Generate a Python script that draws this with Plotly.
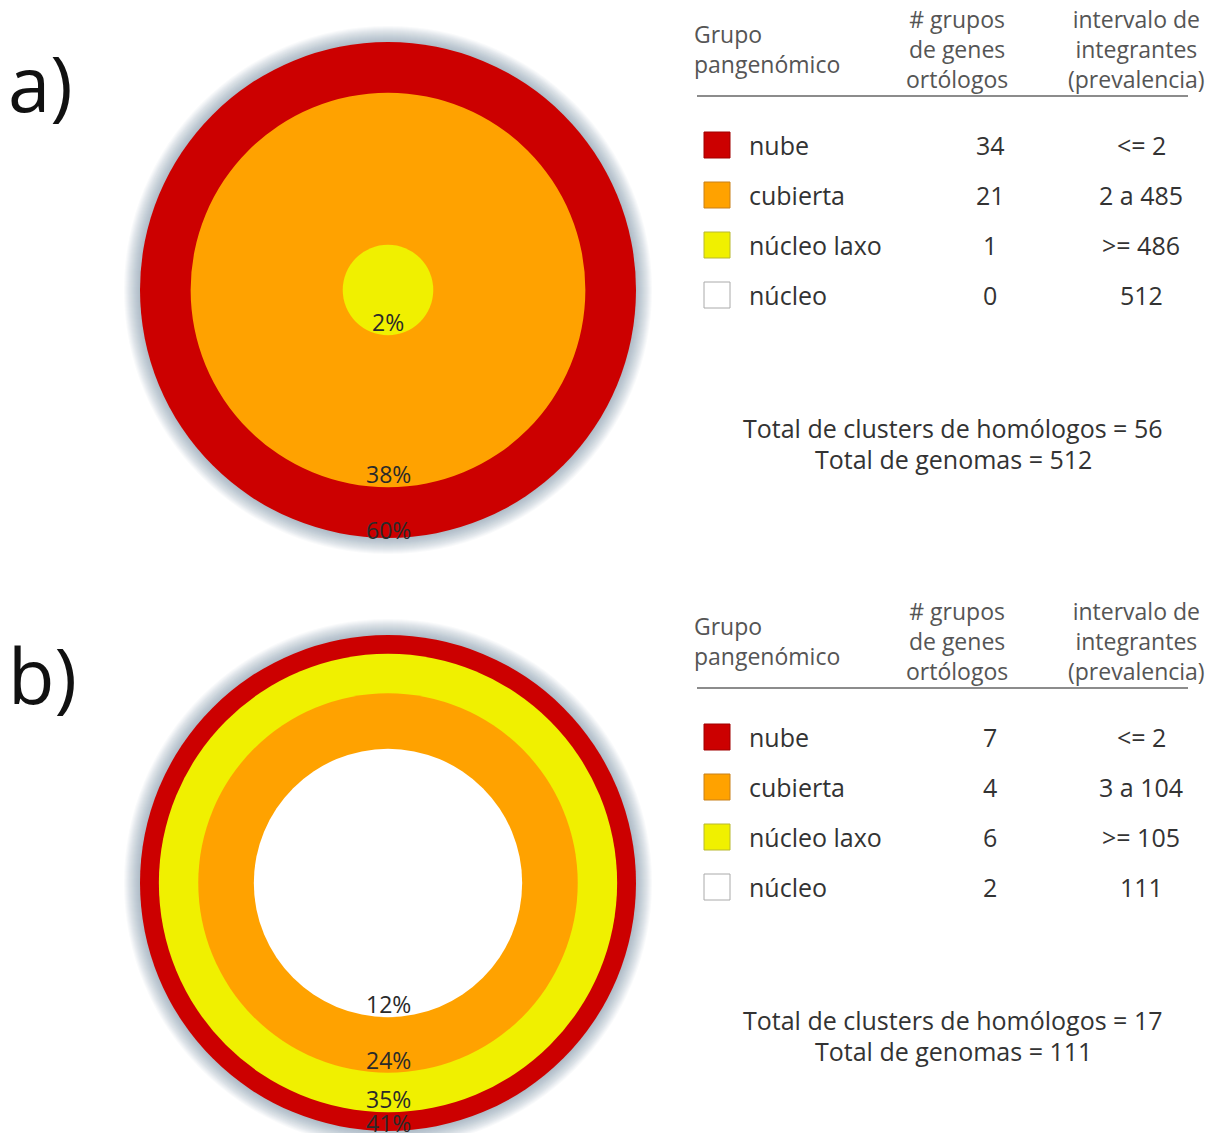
import plotly.graph_objects as go

W, H = 1222, 1133

# ---- data -------------------------------------------------------------
groups = ["nube", "cubierta", "núcleo laxo", "núcleo"]
group_colors = ["#cc0000", "#ffa200", "#f0f000", "#ffffff"]
square_borders = ["#a00000", "#c8801a", "#b8b830", "#aaaaaa"]

a_counts = [34, 21, 1, 0]
a_ranges = ["<= 2", "2 a 485", ">= 486", "512"]
a_pct = [60, 38, 2, 0]
a_total_clusters = 56
a_total_genomes = 512

b_counts = [7, 4, 6, 2]
b_ranges = ["<= 2", "3 a 104", ">= 105", "111"]
b_pct = [41, 24, 35, 12]
b_total_clusters = 17
b_total_genomes = 111

header_group = "Grupo<br>pangenómico"
header_count = "# grupos<br>de genes<br>ortólogos"
header_range = "intervalo de<br>integrantes<br>(prevalencia)"

FONT = "Open Sans"
TXT = "#333333"
HDR = "#555555"


def fx(px):
    return px / W


def fy(py):
    return 1 - py / H


fig = go.Figure()

# panel geometry (pixels): centre and outer radius of each circle diagram
R_PX = 248
panels = [
    dict(label="a)", xa="x", ya="y", cy=290, pct=a_pct, counts=a_counts,
         ranges=a_ranges, tc=a_total_clusters, tg=a_total_genomes, dy=0),
    dict(label="b)", xa="x2", ya="y2", cy=883, pct=b_pct, counts=b_counts,
         ranges=b_ranges, tc=b_total_clusters, tg=b_total_genomes, dy=592),
]
CX = 388
HALF = 264

layout_axes = {}
for i, p in enumerate(panels):
    suffix = "" if i == 0 else str(i + 1)
    top_px = max(p["cy"] - HALF, 0)
    bot_px = min(p["cy"] + HALF, H)
    layout_axes["xaxis" + suffix] = dict(
        domain=[fx(CX - HALF), fx(CX + HALF)],
        range=[-HALF / R_PX, HALF / R_PX],
        visible=False, fixedrange=True)
    layout_axes["yaxis" + suffix] = dict(
        domain=[fy(bot_px), fy(top_px)],
        range=[-(bot_px - p["cy"]) / R_PX, (p["cy"] - top_px) / R_PX],
        visible=False, fixedrange=True)
    fig.add_trace(go.Scatter(x=[0], y=[0], mode="markers", xaxis=p["xa"], yaxis=p["ya"],
                             marker=dict(opacity=0), hoverinfo="skip", showlegend=False))

    pmax = max(p["pct"])
    # soft halo behind the outer circle
    for k in range(16, 0, -1):
        rr = 1 + k / R_PX
        fig.add_shape(type="circle", xref=p["xa"], yref=p["ya"],
                      x0=-rr, x1=rr, y0=-rr, y1=rr,
                      fillcolor="rgba(100,140,155,0.04)", line=dict(width=0),
                      layer="below")

    # circles: area proportional to each group's share, largest drawn first
    order = sorted(range(len(groups)), key=lambda j: -p["pct"][j])
    for j in order:
        v = p["pct"][j]
        if v <= 0:
            continue
        r = (v / pmax) ** 0.5
        fig.add_shape(type="circle", xref=p["xa"], yref=p["ya"],
                      x0=-r, x1=r, y0=-r, y1=r,
                      fillcolor=group_colors[j], line=dict(width=0), layer="below")
    for n, j in enumerate(order):
        v = p["pct"][j]
        if v <= 0:
            continue
        r = (v / pmax) ** 0.5
        off = 8 if n == 0 else 13
        fig.add_annotation(x=0, y=-r + off / R_PX, xref=p["xa"], yref=p["ya"],
                           text=f"{v}%", showarrow=False,
                           font=dict(family=FONT, size=23, color="#2a2a2a"),
                           xanchor="center", yanchor="middle")

    dy = p["dy"]
    # panel letter
    fig.add_annotation(x=fx(6), y=fy(82 + dy), xref="paper", yref="paper",
                       text=p["label"], showarrow=False,
                       font=dict(family=FONT, size=76, color="#111111"),
                       xanchor="left", yanchor="middle")

    # table header
    fig.add_annotation(x=fx(692), y=fy(49 + dy), xref="paper", yref="paper",
                       text=header_group, showarrow=False, align="left",
                       font=dict(family=FONT, size=23, color=HDR),
                       xanchor="left", yanchor="middle")
    fig.add_annotation(x=fx(957), y=fy(49 + dy), xref="paper", yref="paper",
                       text=header_count, showarrow=False, align="center",
                       font=dict(family=FONT, size=23, color=HDR),
                       xanchor="center", yanchor="middle")
    fig.add_annotation(x=fx(1136), y=fy(49 + dy), xref="paper", yref="paper",
                       text=header_range, showarrow=False, align="center",
                       font=dict(family=FONT, size=23, color=HDR),
                       xanchor="center", yanchor="middle")
    fig.add_shape(type="line", xref="paper", yref="paper",
                  x0=fx(697), x1=fx(1188), y0=fy(96 + dy), y1=fy(96 + dy),
                  line=dict(color="#666666", width=1.3))

    # table rows
    for j, g in enumerate(groups):
        ry = 145 + 50 * j + dy
        fig.add_shape(type="rect", xref="paper", yref="paper",
                      x0=fx(704), x1=fx(730), y0=fy(ry - 13), y1=fy(ry + 13),
                      fillcolor=group_colors[j],
                      line=dict(color=square_borders[j], width=1))
        fig.add_annotation(x=fx(747), y=fy(ry), xref="paper", yref="paper",
                           text=g, showarrow=False,
                           font=dict(family=FONT, size=25, color=TXT),
                           xanchor="left", yanchor="middle")
        fig.add_annotation(x=fx(990), y=fy(ry), xref="paper", yref="paper",
                           text=str(p["counts"][j]), showarrow=False,
                           font=dict(family=FONT, size=25, color=TXT),
                           xanchor="center", yanchor="middle")
        fig.add_annotation(x=fx(1141), y=fy(ry), xref="paper", yref="paper",
                           text=p["ranges"][j], showarrow=False,
                           font=dict(family=FONT, size=25, color=TXT),
                           xanchor="center", yanchor="middle")

    # totals
    fig.add_annotation(x=fx(952), y=fy(428 + dy), xref="paper", yref="paper",
                       text=f"Total de clusters de homólogos = {p['tc']}", showarrow=False,
                       font=dict(family=FONT, size=25, color=TXT),
                       xanchor="center", yanchor="middle")
    fig.add_annotation(x=fx(953), y=fy(459 + dy), xref="paper", yref="paper",
                       text=f"Total de genomas = {p['tg']}", showarrow=False,
                       font=dict(family=FONT, size=25, color=TXT),
                       xanchor="center", yanchor="middle")

fig.update_layout(
    width=W, height=H,
    margin=dict(l=0, r=0, t=0, b=0),
    paper_bgcolor="white", plot_bgcolor="rgba(0,0,0,0)",
    showlegend=False,
    **layout_axes,
)

fig.write_html("out.html", config={"displayModeBar": False})
